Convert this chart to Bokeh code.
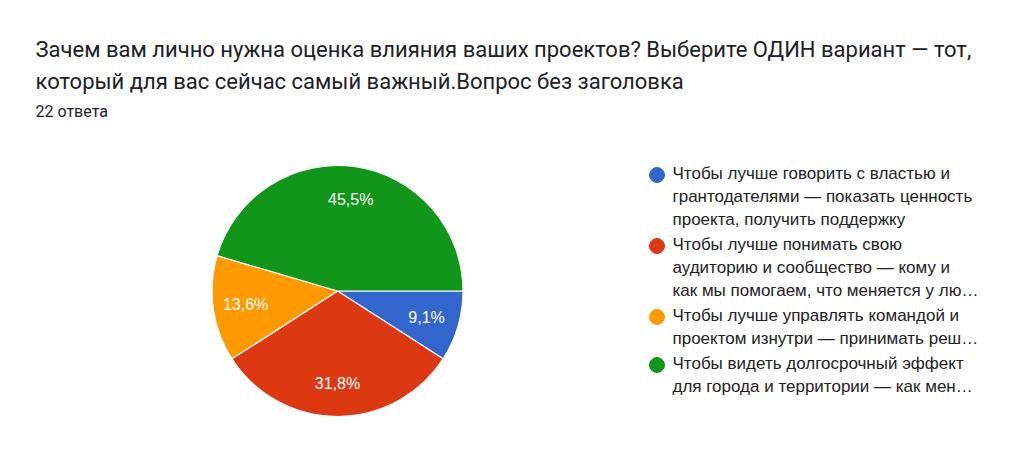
import numpy as np
from bokeh.plotting import figure
from bokeh.models import Range1d
from bokeh.core.properties import value
from bokeh.embed import file_html
from bokeh.resources import INLINE

# данные опроса
title_lines = [
    "Зачем вам лично нужна оценка влияния ваших проектов?  Выберите ОДИН вариант — тот,",
    "который для вас сейчас самый важный.Вопрос без заголовка",
]
subtitle = "22 ответа"
counts = [2, 7, 3, 10]
colors = ["#3366cc", "#dc3912", "#ff9900", "#109618"]
legend_lines = [
    ["Чтобы лучше говорить с властью и",
     "грантодателями — показать ценность",
     "проекта, получить поддержку"],
    ["Чтобы лучше понимать свою",
     "аудиторию и сообщество — кому и",
     "как мы помогаем, что меняется у лю…"],
    ["Чтобы лучше управлять командой и",
     "проектом изнутри — принимать реш…"],
    ["Чтобы видеть долгосрочный эффект",
     "для города и территории — как мен…"],
]

W, H = 1008, 448


def Y(py):
    # координата страницы -> координата графика
    return H - py


p = figure(width=W, height=H, x_range=Range1d(0, W), y_range=Range1d(0, H),
           output_backend="svg", toolbar_location=None, min_border=0)
p.axis.visible = False
p.grid.visible = False
p.outline_line_color = None

# заголовок
for i, line in enumerate(title_lines):
    p.text(x=[35], y=[Y(48.5 + 32.5 * i)], text=[line], text_font=value("Roboto"),
           text_font_size="22px", text_color="#202124", text_baseline="alphabetic")
p.text(x=[35], y=[Y(111)], text=[subtitle], text_font=value("Roboto"),
       text_font_size="16px", text_color="#202124", text_baseline="alphabetic")

# круговая диаграмма (по часовой стрелке от 3 часов)
total = sum(counts)
cx, cy, r = 337, Y(290.5), 125.5
fr = np.cumsum([0] + counts) / total * 2 * np.pi
starts = -fr[1:]
ends = -fr[:-1]
p.wedge(x=cx, y=cy, radius=r, start_angle=starts, end_angle=ends,
        fill_color=colors, line_color="white", line_width=1.2)

mids = (starts + ends) / 2
pct = [f"{100 * c / total:.1f}".replace(".", ",") + "%" for c in counts]
p.text(x=cx + 0.74 * r * np.cos(mids), y=cy + 0.74 * r * np.sin(mids), text=pct,
       text_font=value("Liberation Sans"), text_font_size="16px", text_color="white",
       text_align="center", text_baseline="middle")

# легенда
base = 180
for k, lines in enumerate(legend_lines):
    p.scatter(x=[656.5], y=[Y(base - 5.5)], size=15, color=colors[k])
    for j, line in enumerate(lines):
        p.text(x=[672], y=[Y(base - 7 + 23 * j)], text=[line],
               text_font=value("Liberation Sans"), text_font_size="17px",
               text_color="#222222", text_baseline="alphabetic")
    base += 23 * len(lines) + 2

open("out.html", "w").write(file_html(p, INLINE))
